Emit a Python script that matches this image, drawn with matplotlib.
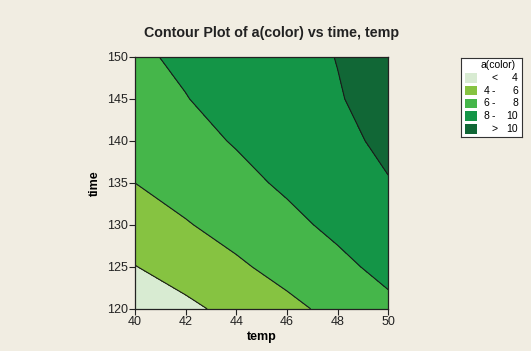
import numpy as np
import matplotlib
matplotlib.use("Agg")
import matplotlib.pyplot as plt
from matplotlib.patches import Rectangle

plt.rcParams["font.family"] = ["Liberation Sans", "DejaVu Sans"]

# grid (temp across, time down)
temp = [40, 42, 44, 46, 48, 50]
time = [120, 125, 130, 135, 140, 145, 150]
a_color = [
    [2.66, 3.59, 4.55, 5.53, 6.53, 7.56],
    [3.95, 4.82, 5.71, 6.63, 7.56, 8.52],
    [5.07, 5.87, 6.69, 7.54, 8.41, 9.31],
    [6.00, 6.74, 7.50, 8.28, 9.09, 9.92],
    [6.76, 7.43, 8.13, 8.84, 9.58, 10.35],
    [7.34, 7.95, 8.58, 9.23, 9.90, 10.60],
    [7.74, 8.28, 8.85, 9.44, 10.04, 10.68],
]
levels = [0, 4, 6, 8, 10, 20]
colors = ["#d8ebd2", "#86c341", "#45b64a", "#149547", "#116736"]
legend_labels = [("<", "", "4"), ("4", "-", "6"), ("6", "-", "8"),
                 ("8", "-", "10"), (">", "", "10")]

bg = "#f1ede2"
fig = plt.figure(figsize=(5.31, 3.51), dpi=100, facecolor=bg)
ax = fig.add_axes([0.254, 0.12, 0.477, 0.718])

ax.contourf(temp, time, a_color, levels=levels, colors=colors)
ax.contour(temp, time, a_color, levels=levels[1:-1], colors="#1a1a1a", linewidths=0.8)

ax.set_xlim(40, 50)
ax.set_ylim(120, 150)
ax.set_xticks([40, 42, 44, 46, 48, 50])
ax.set_yticks([120, 125, 130, 135, 140, 145, 150])
ax.tick_params(direction="out", length=4, width=0.8, labelsize=9, colors="#222222", pad=1)
for s in ax.spines.values():
    s.set_linewidth(0.9)
    s.set_color("#222222")

ax.set_xlabel("temp", fontsize=9, fontweight="bold", labelpad=2)
ax.set_ylabel("time", fontsize=9, fontweight="bold", labelpad=4)
fig.text(272 / 531, 1 - 33 / 351, "Contour Plot of a(color) vs time, temp",
         ha="center", va="center", fontsize=10.3, fontweight="bold", color="#222222")

# legend box
lg = fig.add_axes([461 / 531, 1 - 137 / 351, 61 / 531, 79 / 351])
lg.set_xlim(461, 522)
lg.set_ylim(137, 58)
lg.set_xticks([])
lg.set_yticks([])
lg.set_facecolor("white")
for s in lg.spines.values():
    s.set_linewidth(0.8)
    s.set_color("#333333")
lg.text(498, 65, "a(color)", ha="center", va="center", fontsize=7.5)
for i, (c, (lo, dash, hi)) in enumerate(zip(colors, legend_labels)):
    yc = 78 + i * 12.7
    lg.add_patch(Rectangle((465, yc - 4.7), 11.5, 9.4, facecolor=c, edgecolor="none"))
    if dash:
        lg.text(484, yc, lo, ha="left", va="center", fontsize=7.5)
        lg.text(493, yc, dash, ha="center", va="center", fontsize=7.5)
    else:
        lg.text(495, yc, lo, ha="center", va="center", fontsize=7.5)
    lg.text(518, yc, hi, ha="right", va="center", fontsize=7.5)

fig.savefig("out.png", dpi=100, facecolor=bg)
